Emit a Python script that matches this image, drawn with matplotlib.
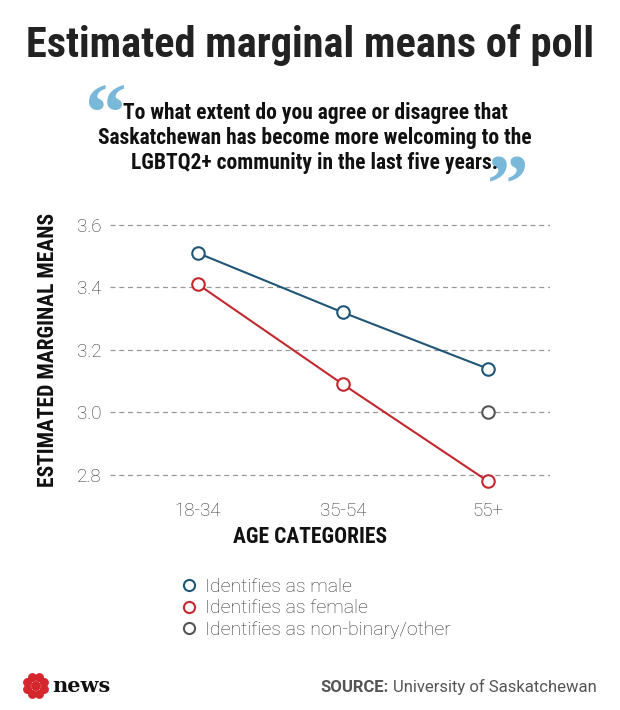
import numpy as np
import matplotlib.pyplot as plt
from matplotlib.patches import Circle

# data
age_groups = ['18-34', '35-54', '55+']
male = [3.51, 3.32, 3.14]
female = [3.41, 3.09, 2.78]
nonbinary = [None, None, 3.00]
y_ticks = [2.8, 3.0, 3.2, 3.4, 3.6]

blue = '#1f5577'
red = '#c3282f'
grey = '#555555'

cond = ['Liberation Sans Narrow', 'Roboto Condensed', 'DejaVu Sans']

fig = plt.figure(figsize=(6.2, 7.1), dpi=100)
W, H = 620, 710

def fx(px):
    return px / W

def fy(py):
    return 1 - py / H

ax = fig.add_axes([fx(110), fy(490.6), fx(550) - fx(110), fy(218.75) - fy(490.6)])
x = [0, 1, 2]
ax.plot(x, male, color=blue, lw=1.5, marker='o', ms=9, mfc='white', mew=1.5,
        label='Identifies as male', clip_on=False, zorder=3)
ax.plot(x, female, color=red, lw=1.5, marker='o', ms=9, mfc='white', mew=1.5,
        label='Identifies as female', clip_on=False, zorder=3)
nb_x = [i for i, v in enumerate(nonbinary) if v is not None]
nb_y = [v for v in nonbinary if v is not None]
ax.plot(nb_x, nb_y, color=grey, lw=0, marker='o', ms=9, mfc='white', mew=1.5,
        label='Identifies as non-binary/other', clip_on=False, zorder=3)

ax.set_xlim(-0.607, 2.428)
ax.set_ylim(2.75, 3.62)
ax.set_yticks(y_ticks)
ax.set_yticklabels([f'{t:.1f}' for t in y_ticks])
ax.set_xticks(x)
ax.set_xticklabels(age_groups)
for t in y_ticks:
    ax.axhline(t, color='#999999', lw=0.9, ls=(0, (4, 3)), zorder=1)
for s in ax.spines.values():
    s.set_visible(False)
ax.tick_params(length=0, labelsize=13.5, labelcolor='#333333', pad=6)
ax.tick_params(axis='x', pad=8)
for lab in ax.get_xticklabels() + ax.get_yticklabels():
    lab.set_fontfamily(['Roboto', 'DejaVu Sans'])
    lab.set_fontweight('light')

fig.text(fx(48), fy(350), 'ESTIMATED MARGINAL MEANS', rotation=90, ha='center', va='center',
         fontsize=15.5, fontweight='bold', family=cond, color='#111111')
fig.text(fx(310), fy(537), 'AGE CATEGORIES', ha='center', va='center',
         fontsize=15.5, fontweight='bold', family=cond, color='#111111')

# title and question
fig.text(fx(310), fy(45), 'Estimated marginal means of poll', ha='center', va='center',
         fontsize=30.5, fontweight='bold', family=cond, color='#222222')
question = ['To what extent do you agree or disagree that',
            'Saskatchewan has become more welcoming to the',
            'LGBTQ2+ community in the last five years.']
for i, line in enumerate(question):
    fig.text(fx(315), fy(113 + 25 * i), line, ha='center', va='center',
             fontsize=15.5, fontweight='bold', family=cond, color='#111111', zorder=2)
fig.text(fx(85), fy(140), '\u201c', ha='left', va='baseline', fontsize=60,
         fontweight='bold', family=['Liberation Serif', 'DejaVu Serif'], color='#7ab8d9',
         zorder=1)
fig.text(fx(487), fy(211), '\u201d', ha='left', va='baseline', fontsize=60,
         fontweight='bold', family=['Liberation Serif', 'DejaVu Serif'], color='#7ab8d9',
         zorder=1)

# legend
leg = fig.legend(loc='upper left', bbox_to_anchor=(fx(166), fy(560)), frameon=False,
                 handlelength=0.6, handletextpad=0.5, labelspacing=0.2,
                 prop={'family': ['Roboto', 'DejaVu Sans'], 'weight': 'light', 'size': 14})
for h in leg.legend_handles:
    h.set_markersize(8)
    h.set_linewidth(0)
for t in leg.get_texts():
    t.set_color('#333333')

# footer
lx, ly = 36, 686
logo = fig.add_axes([fx(lx - 14), fy(ly + 14), fx(28), fy(0) - fy(28)])
logo.set_xlim(-1, 1)
logo.set_ylim(-1, 1)
logo.set_aspect('equal')
logo.axis('off')
logo.add_patch(Circle((0, 0), 0.3, color='#d4262c'))
for k in range(8):
    a = np.pi / 4 * k + np.pi / 8
    logo.add_patch(Circle((0.65 * np.cos(a), 0.65 * np.sin(a)), 0.27, color='#d4262c'))
fig.text(fx(52), fy(686), 'news', ha='left', va='center', fontsize=15, fontweight='bold',
         family=['DejaVu Serif'], color='#111111')

fig.text(fx(597), fy(687), 'University of Saskatchewan', ha='right', va='center',
         fontsize=12, family=['Roboto', 'DejaVu Sans'], color='#555555')
fig.text(fx(389), fy(687), 'SOURCE:', ha='right', va='center',
         fontsize=12, fontweight='bold', family=['Roboto', 'DejaVu Sans'], color='#555555')

fig.savefig('out.png', dpi=100)
